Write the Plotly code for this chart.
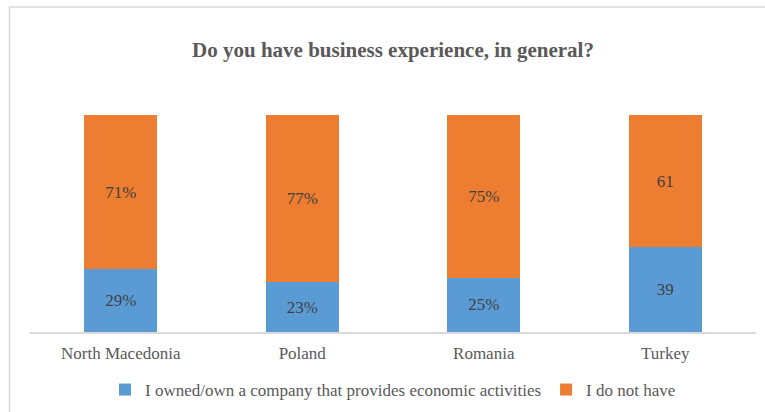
import plotly.graph_objects as go

categories = ["North Macedonia", "Poland", "Romania", "Turkey"]
owned = [29, 23, 25, 39]
not_have = [71, 77, 75, 61]
label_suffix = ["%", "%", "%", ""]
series_names = ["I owned/own a company that provides economic activities", "I do not have"]
title_text = "Do you have business experience, in general?"

FONT = "Liberation Serif"
BLUE = "#5B9BD5"
ORANGE = "#ED7D31"

owned_text = [f"{v}{s}" for v, s in zip(owned, label_suffix)]
not_text = [f"{v}{s}" for v, s in zip(not_have, label_suffix)]

fig = go.Figure()
fig.add_trace(go.Bar(
    x=categories, y=owned, name=series_names[0], marker_color=BLUE,
    marker_line_width=0, text=owned_text, textposition="inside",
    insidetextanchor="middle", textangle=0,
    textfont=dict(family=FONT, size=17, color="#404040"),
))
fig.add_trace(go.Bar(
    x=categories, y=not_have, name=series_names[1], marker_color=ORANGE,
    marker_line_width=0, text=not_text, textposition="inside",
    insidetextanchor="middle", textangle=0,
    textfont=dict(family=FONT, size=17, color="#404040"),
))

L, R, T, B = 30, 9, 115, 80
W, H = 765, 412
pw, ph = W - L - R, H - T - B

def px_x(p):
    return (p - L) / pw

def px_y(p):
    return (H - B - p) / ph

fig.update_layout(
    width=W, height=H, barmode="stack", bargap=0.6,
    margin=dict(l=L, r=R, t=T, b=B, autoexpand=False),
    paper_bgcolor="white", plot_bgcolor="white",
    font=dict(family=FONT, color="#595959"),
    title=dict(text="<b>" + title_text + "</b>", font=dict(family=FONT, size=21, color="#595959"),
               x=0.5, xref="paper", xanchor="center", y=1 - 50 / H, yref="container", yanchor="middle"),
    xaxis=dict(showline=True, linecolor="#D9D9D9", linewidth=1.5, ticks="",
               ticklabelstandoff=5, automargin=False,
               tickfont=dict(family=FONT, size=17, color="#595959"), showgrid=False),
    yaxis=dict(range=[0, 100], visible=False, showgrid=False, automargin=False),
    showlegend=True,
    legend=dict(orientation="h", x=0.5, xanchor="center", y=1 - 390 / H, yref="container",
                yanchor="middle",
                font=dict(family=FONT, size=17, color="#595959"), traceorder="normal",
                itemwidth=30, bgcolor="rgba(0,0,0,0)"),
    shapes=[dict(type="rect", xref="paper", yref="paper",
                 x0=px_x(9.5), x1=px_x(775), y0=px_y(7), y1=px_y(430),
                 line=dict(color="#D9D9D9", width=1.5), fillcolor="rgba(0,0,0,0)", layer="below")],
)

fig.write_html("out.html")
